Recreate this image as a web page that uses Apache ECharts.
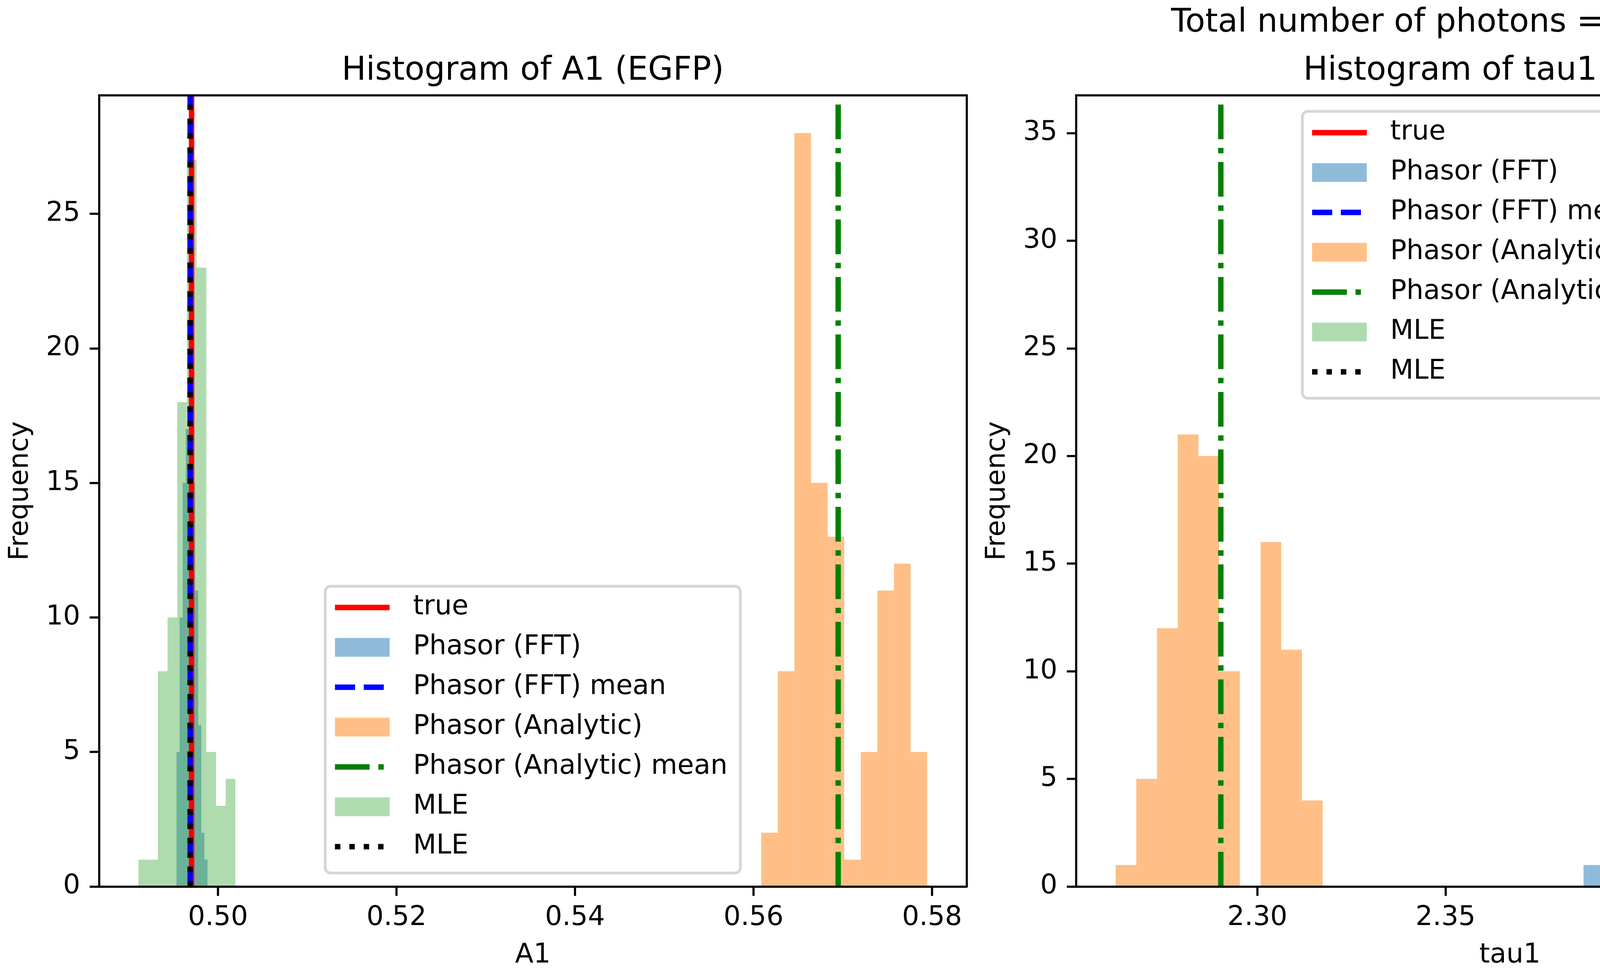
<!DOCTYPE html>
<html>
<head>
<meta charset="utf-8">
<script src="https://cdn.jsdelivr.net/npm/echarts@6/dist/echarts.min.js"></script>
<style>html,body{margin:0;padding:0;background:#fff}#c{width:7500px;height:2500px}</style>
</head>
<body>
<div id="c"></div>
<script>
// ---------------- DATA ----------------
const SUPTITLE = 'Total number of photons = 2728333';
const PANEL_TITLES = ['Histogram of A1 (EGFP)', 'Histogram of tau1 (EGFP)', 'Histogram of tau2 (EGFP)'];
const X_NAMES = ['A1', 'tau1', 'tau2'];
const Y_NAME = 'Frequency';
const LEGEND_LABELS = ['true', 'Phasor (FFT)', 'Phasor (FFT) mean', 'Phasor (Analytic)', 'Phasor (Analytic) mean', 'MLE', 'MLE'];

// Panel 1: A1
const A1_FFT_COUNTS = [5, 10, 15, 17, 18, 15, 11, 6, 2, 1];
const A1_FFT_EDGE0 = 0.49535, A1_FFT_BINW = 0.000347;
const A1_AN_COUNTS = [2, 8, 28, 15, 13, 1, 5, 11, 12, 5];
const A1_AN_EDGE0 = 0.56086, A1_AN_BINW = 0.001859;
const A1_MLE_COUNTS = [1, 1, 8, 10, 18, 27, 23, 5, 3, 4];
const A1_MLE_EDGE0 = 0.49109, A1_MLE_BINW = 0.001086;
const A1_LINES = [0.49704, 0.49688, 0.56948, 0.49688]; // true, FFT mean, Analytic mean, MLE mean

// Panel 2: tau1
const TAU1_FFT_COUNTS = [1, 2, 5, 14, 19, 18, 17, 16, 4, 4];
const TAU1_FFT_EDGE0 = 2.38666, TAU1_FFT_BINW = 0.008524;
const TAU1_AN_COUNTS = [1, 5, 12, 21, 20, 10, 0, 16, 11, 4];
const TAU1_AN_EDGE0 = 2.26233, TAU1_AN_BINW = 0.005501;
const TAU1_MLE_COUNTS = [3, 10, 5, 15, 35, 15, 5, 5, 5, 2];
const TAU1_MLE_EDGE0 = 2.40742, TAU1_MLE_BINW = 0.005208;
const TAU1_LINES = [2.42994, 2.43384, 2.29028, 2.43113];

// Panel 3: tau2
const TAU2_FFT_COUNTS = [3, 3, 12, 18, 23, 15, 17, 4, 4, 1];
const TAU2_FFT_EDGE0 = 3.03571, TAU2_FFT_BINW = 0.006704;
const TAU2_AN_COUNTS = [4, 15, 21, 25, 18, 11, 1, 3, 1, 1];
const TAU2_AN_EDGE0 = 3.21241, TAU2_AN_BINW = 0.004436;
const TAU2_MLE_COUNTS = [4, 5, 8, 4, 14, 48, 2, 8, 5, 2];
const TAU2_MLE_EDGE0 = 3.04943, TAU2_MLE_BINW = 0.003986;
const TAU2_LINES = [3.07011, 3.06718, 3.22772, 3.06928];

// Axis ranges and ticks
const X_RANGES = [[0.48667, 0.58387], [2.25185, 2.48237], [3.02466, 3.26782]];
const Y_MAX = [29.4, 36.75, 50.4];
const X_TICKS = [[0.50, 0.52, 0.54, 0.56, 0.58], [2.30, 2.35, 2.40, 2.45], [3.05, 3.10, 3.15, 3.20, 3.25]];
const Y_TICKS = [[0, 5, 10, 15, 20, 25], [0, 5, 10, 15, 20, 25, 30, 35], [0, 10, 20, 30, 40, 50]];

// ---------------- STYLE / LAYOUT ----------------
const FONT = 'DejaVu Sans';
const C_FFT = 'rgba(31,119,180,0.5)';
const C_AN = 'rgba(255,127,14,0.5)';
const C_MLE = 'rgba(44,160,44,0.38)';
const C_TRUE = '#ff0000', C_FFTM = '#0000ff', C_ANM = '#008000', C_MLEM = '#000000';
const LW = 13.9;
const DASHED = [51.4, 22.2];
const DASHDOT = [88.8, 22.2, 13.9, 22.2];
const DOTTED = [13.9, 22.9];
const GRID_LEFT = [253.5, 2755, 5258.5];
const GRID_W = 2221;
const GRID_TOP = 244;
const GRID_BOTTOM = 231.5;
const SPINE = 5.5;
const LEG_W = 1063;
const LEG_TOP = [1500, 285, 285];

const ANCH = 'M0,0L0,0Z M140,48L140,48Z ';
const ICON_SOLID = 'path://' + ANCH + 'M0,17L140,17L140,31L0,31Z';
const ICON_DASHED = 'path://' + ANCH + 'M0,17L51.4,17L51.4,31L0,31Z M73.6,17L125,17L125,31L73.6,31Z';
const ICON_DASHDOT = 'path://' + ANCH + 'M0,17L88.8,17L88.8,31L0,31Z M111,17L124.9,17L124.9,31L111,31Z';
const ICON_DOTTED = 'path://' + ANCH + 'M0,17L13.9,17L13.9,31L0,31Z M36.8,17L50.7,17L50.7,31L36.8,31Z M73.6,17L87.5,17L87.5,31L73.6,31Z M110.4,17L124.3,17L124.3,31L110.4,31Z';

const PANELS = [
  {key: 'A1', fft: [A1_FFT_EDGE0, A1_FFT_BINW, A1_FFT_COUNTS], an: [A1_AN_EDGE0, A1_AN_BINW, A1_AN_COUNTS], mle: [A1_MLE_EDGE0, A1_MLE_BINW, A1_MLE_COUNTS], lines: A1_LINES},
  {key: 'tau1', fft: [TAU1_FFT_EDGE0, TAU1_FFT_BINW, TAU1_FFT_COUNTS], an: [TAU1_AN_EDGE0, TAU1_AN_BINW, TAU1_AN_COUNTS], mle: [TAU1_MLE_EDGE0, TAU1_MLE_BINW, TAU1_MLE_COUNTS], lines: TAU1_LINES},
  {key: 'tau2', fft: [TAU2_FFT_EDGE0, TAU2_FFT_BINW, TAU2_FFT_COUNTS], an: [TAU2_AN_EDGE0, TAU2_AN_BINW, TAU2_AN_COUNTS], mle: [TAU2_MLE_EDGE0, TAU2_MLE_BINW, TAU2_MLE_COUNTS], lines: TAU2_LINES}
];

const LABEL_OF = {};

function histData(edge0, binW, counts) {
  return counts.map((c, i) => [edge0 + i * binW, edge0 + (i + 1) * binW, c]);
}
function histSeries(name, gi, spec, color) {
  return {
    type: 'custom', name: name, xAxisIndex: gi * 2, yAxisIndex: gi * 2,
    data: histData(spec[0], spec[1], spec[2]),
    encode: {x: [0, 1], y: 2},
    renderItem: function (params, api) {
      const a = api.coord([api.value(0), api.value(2)]);
      const b = api.coord([api.value(1), 0]);
      return {type: 'rect', shape: {x: a[0], y: a[1], width: b[0] - a[0], height: b[1] - a[1]}, style: {fill: color}};
    },
    itemStyle: {color: color},
    silent: true, animation: false, z: 2
  };
}
function vline(name, gi, x, color, dash) {
  return {
    type: 'line', name: name, xAxisIndex: gi * 2, yAxisIndex: gi * 2,
    data: [[x, 0], [x, Y_MAX[gi]]],
    symbol: 'none', showSymbol: false,
    lineStyle: {color: color, width: LW, type: dash, cap: 'butt'},
    itemStyle: {color: color},
    emphasis: {disabled: true},
    silent: true, animation: false, z: 3
  };
}

const grids = [], xAxes = [], yAxes = [], series = [], lineSeries = [], titles = [], legends = [];

titles.push({text: SUPTITLE, left: 3750, top: 59, textAlign: 'center', textVerticalAlign: 'middle', padding: 0,
  textStyle: {fontSize: 83, fontWeight: 'normal', fontFamily: FONT, color: '#000'}});

PANELS.forEach((p, gi) => {
  grids.push({left: GRID_LEFT[gi], width: GRID_W, top: GRID_TOP, bottom: GRID_BOTTOM, containLabel: false, outerBoundsMode: 'none', show: false});
  const cx = GRID_LEFT[gi] + GRID_W / 2;
  titles.push({text: PANEL_TITLES[gi], left: cx, top: 182, textAlign: 'center', textVerticalAlign: 'middle', padding: 0,
    textStyle: {fontSize: 83, fontWeight: 'normal', fontFamily: FONT, color: '#000'}});

  const axisLine = {show: true, onZero: false, lineStyle: {color: '#000', width: SPINE}};
  xAxes.push({
    type: 'value', gridIndex: gi, position: 'bottom', min: X_RANGES[gi][0], max: X_RANGES[gi][1], z: 10,
    axisLine: axisLine,
    axisTick: {show: true, length: 24, lineStyle: {color: '#000', width: SPINE}, customValues: X_TICKS[gi]},
    axisLabel: {show: true, customValues: X_TICKS[gi], formatter: v => Number(v).toFixed(2), fontSize: 69, fontFamily: FONT, color: '#000', margin: 46},
    splitLine: {show: false},
    name: X_NAMES[gi], nameLocation: 'middle', nameGap: 142,
    nameTextStyle: {fontSize: 69, fontFamily: FONT, color: '#000'}
  });
  xAxes.push({
    type: 'value', gridIndex: gi, position: 'top', min: X_RANGES[gi][0], max: X_RANGES[gi][1], z: 10,
    axisLine: axisLine, axisTick: {show: false}, axisLabel: {show: false}, splitLine: {show: false}
  });
  yAxes.push({
    type: 'value', gridIndex: gi, position: 'left', min: 0, max: Y_MAX[gi], z: 10,
    axisLine: axisLine,
    axisTick: {show: true, length: 24, lineStyle: {color: '#000', width: SPINE}, customValues: Y_TICKS[gi]},
    axisLabel: {show: true, customValues: Y_TICKS[gi], fontSize: 69, fontFamily: FONT, color: '#000', margin: 48},
    splitLine: {show: false},
    name: Y_NAME, nameLocation: 'middle', nameRotate: 90, nameGap: 166,
    nameTextStyle: {fontSize: 69, fontFamily: FONT, color: '#000'}
  });
  yAxes.push({
    type: 'value', gridIndex: gi, position: 'right', min: 0, max: Y_MAX[gi], z: 10,
    axisLine: axisLine, axisTick: {show: false}, axisLabel: {show: false}, splitLine: {show: false}
  });

  const n = LEGEND_LABELS.map((l, i) => p.key + '|' + i);
  n.forEach((nm, i) => { LABEL_OF[nm] = LEGEND_LABELS[i]; });

  series.push(histSeries(n[1], gi, p.fft, C_FFT));
  series.push(histSeries(n[3], gi, p.an, C_AN));
  series.push(histSeries(n[5], gi, p.mle, C_MLE));
  lineSeries.push(vline(n[0], gi, p.lines[0], C_TRUE, 'solid'));
  lineSeries.push(vline(n[2], gi, p.lines[1], C_FFTM, DASHED));
  lineSeries.push(vline(n[4], gi, p.lines[2], C_ANM, DASHDOT));
  lineSeries.push(vline(n[6], gi, p.lines[3], C_MLEM, DOTTED));

  legends.push({
    orient: 'vertical', left: cx - LEG_W / 2, top: LEG_TOP[gi], selectedMode: false,
    itemWidth: 140, itemHeight: 48, itemGap: 33, padding: [20, 33, 33, 25],
    borderColor: '#d6d6d6', borderWidth: 7, borderRadius: 14, backgroundColor: 'rgba(255,255,255,0.8)',
    symbolKeepAspect: true, z: 20,
    formatter: name => LABEL_OF[name],
    textStyle: {fontSize: 69, fontFamily: FONT, color: '#000', lineHeight: 69, padding: [0, 0, 0, 55]},
    data: [
      {name: n[0], icon: ICON_SOLID, itemStyle: {color: C_TRUE, borderWidth: 0}},
      {name: n[1], icon: 'rect', itemStyle: {color: C_FFT, borderWidth: 0}},
      {name: n[2], icon: ICON_DASHED, itemStyle: {color: C_FFTM, borderWidth: 0}},
      {name: n[3], icon: 'rect', itemStyle: {color: C_AN, borderWidth: 0}},
      {name: n[4], icon: ICON_DASHDOT, itemStyle: {color: C_ANM, borderWidth: 0}},
      {name: n[5], icon: 'rect', itemStyle: {color: C_MLE, borderWidth: 0}},
      {name: n[6], icon: ICON_DOTTED, itemStyle: {color: C_MLEM, borderWidth: 0}}
    ]
  });
});

const chart = echarts.init(document.getElementById('c'), null, {renderer: 'canvas', width: 7500, height: 2500});
chart.setOption({
  animation: false,
  backgroundColor: '#ffffff',
  title: titles,
  legend: legends,
  grid: grids,
  xAxis: xAxes,
  yAxis: yAxes,
  series: series.concat(lineSeries)
});
</script>
</body>
</html>
